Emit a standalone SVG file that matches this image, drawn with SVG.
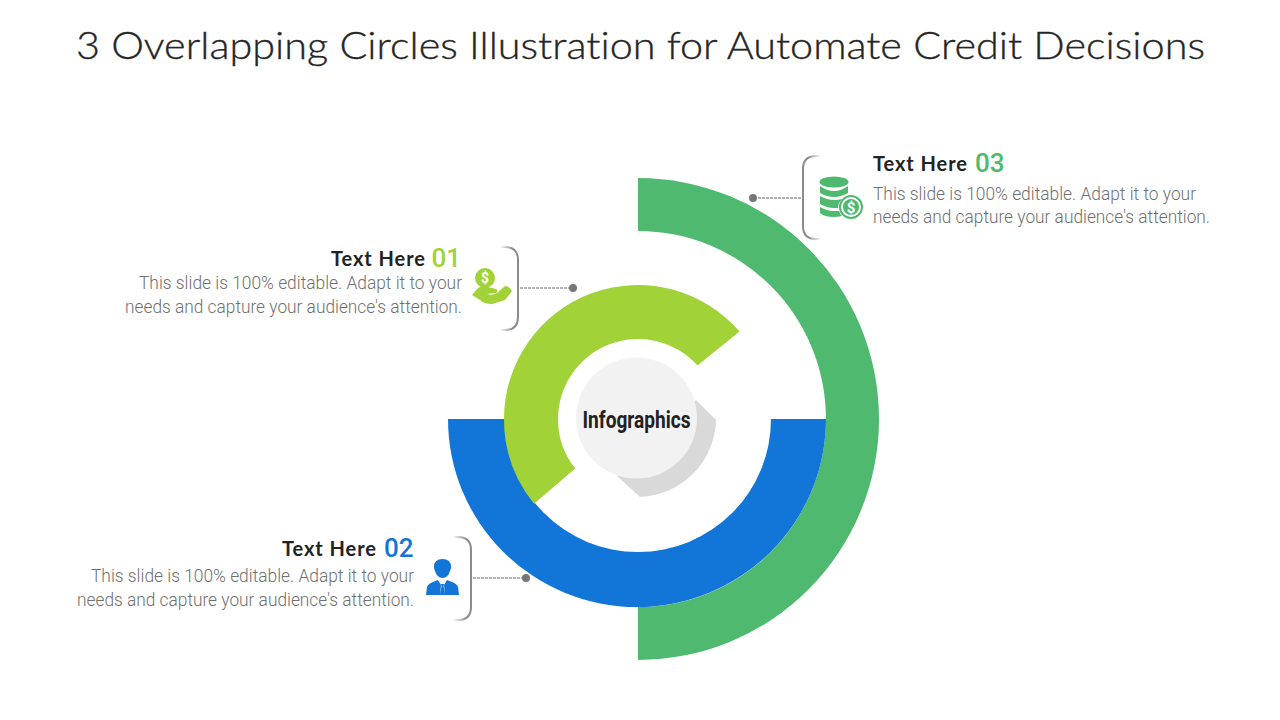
<svg xmlns="http://www.w3.org/2000/svg" width="1280" height="720" viewBox="0 0 1280 720">
<style>
.title{font-family:Lato,"Liberation Sans",sans-serif;font-size:38px;font-weight:300;fill:#262626;stroke:#262626;stroke-width:.35;font-variant-ligatures:none}
.h{font-family:Lato,"Liberation Sans",sans-serif;font-size:20px;font-weight:700;fill:#222}
.n{font-family:Roboto,"Liberation Sans",sans-serif;font-size:26px;font-weight:500}
.b{font-family:Roboto,"Liberation Sans",sans-serif;font-size:17.5px;font-weight:300;fill:#6f6f6f}
.l{fill:none;stroke:#66666a;stroke-width:1;stroke-dasharray:3 1}
.d{fill:#77777b}
</style>
<defs>
<linearGradient id="fr" x1="0" y1="0" x2="1" y2="0"><stop offset="0" stop-color="#8c8c8c" stop-opacity="0"/><stop offset="0.7" stop-color="#8c8c8c"/></linearGradient>
<linearGradient id="fl" x1="1" y1="0" x2="0" y2="0"><stop offset="0" stop-color="#8c8c8c" stop-opacity="0"/><stop offset="0.7" stop-color="#8c8c8c"/></linearGradient>
</defs>
<rect width="1280" height="720" fill="#fff"/>
<text class="title" x="76" y="59" textLength="1129" lengthAdjust="spacingAndGlyphs">3 Overlapping Circles Illustration for Automate Credit Decisions</text>
<g id="rings">
<path id="ring3" fill="#4fba6f" d="M638 178A241 241 0 0 1 638 660V607A188 188 0 0 0 638 231Z"/>
<path id="ring2" fill="#1276d8" d="M448 419H826A189 188 0 0 1 448 419ZM505 419A133 133 0 0 0 771 419Z" fill-rule="evenodd"/>
<path id="ring1" fill="#a1d338" d="M739.600 331.600A134 134 0 0 0 504 419A134 134 0 0 0 534.100 503.700L575.200 468.600A80 80 0 0 1 558 419A80 80 0 0 1 697.500 365.600Z"/>
</g>
<g id="center">
<path fill="#d9d9d9" d="M696 400L716 420A79 79 0 0 1 640 497L617 476Z"/>
<circle cx="636.500" cy="418" r="60.500" fill="#f2f2f2"/>
<text x="636.500" y="427.500" text-anchor="middle" font-family="Roboto,'Liberation Sans',sans-serif" font-size="23" font-weight="700" fill="#222" textLength="108" lengthAdjust="spacingAndGlyphs">Infographics</text>
</g>
<g id="connectors">
<path fill="none" stroke="url(#fr)" stroke-width="2" d="M500 247H505Q518 247 518 260V317Q518 330 505 330H500"/>
<path class="l" d="M520 288H572"/><circle class="d" cx="573" cy="288" r="4"/>
<path fill="none" stroke="url(#fr)" stroke-width="2" d="M453 537H458Q471 537 471 550V607Q471 620 458 620H453"/>
<path class="l" d="M473 578H525"/><circle class="d" cx="526" cy="578" r="4"/>
<path fill="none" stroke="url(#fl)" stroke-width="2" d="M821 156H816Q803 156 803 169V226Q803 239 816 239H821"/>
<path class="l" d="M754 198H802"/><circle class="d" cx="753" cy="198" r="4"/>
</g>
<g id="node1">
<text class="h" x="425" y="266" text-anchor="end" textLength="94" lengthAdjust="spacing">Text Here</text>
<text class="n" x="461" y="266.500" text-anchor="end" fill="#a1d338">01</text>
<text class="b" x="462" y="289" text-anchor="end" textLength="323" lengthAdjust="spacingAndGlyphs">This slide is 100% editable. Adapt it to your</text>
<text class="b" x="462" y="313" text-anchor="end" textLength="337" lengthAdjust="spacingAndGlyphs">needs and capture your audience's attention.</text>
<g fill="#a1d338"><circle cx="485" cy="278" r="10"/>
<path d="M472 295L478 288Q482 285 488 287L496 289Q499 291 496 293L487 294Q492 296 497 293L505 286Q509 286 512 291L505 300L492 304Q484 304 480 300Z"/></g>
<text x="485" y="283" text-anchor="middle" font-family="Roboto,sans-serif" font-size="14" font-weight="700" fill="#fff">$</text>
</g>
<g id="node2">
<text class="h" x="376" y="556" text-anchor="end" textLength="94" lengthAdjust="spacing">Text Here</text>
<text class="n" x="413.500" y="556.500" text-anchor="end" fill="#1276d8">02</text>
<text class="b" x="414" y="582" text-anchor="end" textLength="323" lengthAdjust="spacingAndGlyphs">This slide is 100% editable. Adapt it to your</text>
<text class="b" x="414" y="606" text-anchor="end" textLength="337" lengthAdjust="spacingAndGlyphs">needs and capture your audience's attention.</text>
<g fill="#1276d8"><path d="M434 567Q434 559 442.500 559Q451 559 451 567Q451 569 450 571Q448 578 442.500 578Q437 578 435 571Q434 569 434 567Z"/>
<path d="M426 595L427 587Q428 584 433 582L438 580L441 585L440 595ZM459 595L458 587Q457 584 452 582L447 580L444 585L445 595ZM441 584H444L443.500 586L445 595H440L441.500 586Z"/></g>
</g>
<g id="node3">
<text class="h" x="873" y="171" textLength="94" lengthAdjust="spacing">Text Here</text>
<text class="n" x="975" y="171.500" fill="#4fba6f">03</text>
<text class="b" x="873" y="200" textLength="323" lengthAdjust="spacingAndGlyphs">This slide is 100% editable. Adapt it to your</text>
<text class="b" x="873" y="223" textLength="337" lengthAdjust="spacingAndGlyphs">needs and capture your audience's attention.</text>
<g fill="#4fba6f"><ellipse cx="834" cy="182" rx="14.500" ry="5.500"/>
<path d="M820 186Q827 191 834 191Q841 191 848 186V193Q841 197 834 197Q827 197 820 193ZM820 196Q827 200 834 200Q838 200 842 199Q838 203 838 208Q836 208 834 208Q827 208 820 204ZM820 207Q827 211 834 211Q836 211 839 211Q840 214 842 216Q838 217 834 217Q824 217 820 213Z"/>
<circle cx="851" cy="207" r="11" fill="#fff" stroke="#4fba6f" stroke-width="2"/><circle cx="851" cy="207" r="8"/></g>
<text x="851" y="212.500" text-anchor="middle" font-family="Roboto,sans-serif" font-size="15" font-weight="700" fill="#fff">$</text>
</g>
</svg>
